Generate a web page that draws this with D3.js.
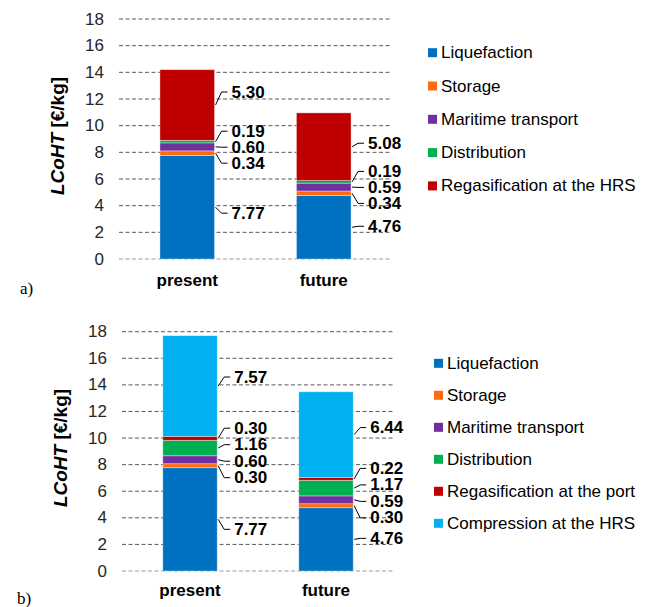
<!DOCTYPE html>
<html>
<head>
<meta charset="utf-8">
<script src="https://cdn.jsdelivr.net/npm/d3@7"></script>
<style>
  html, body { margin: 0; padding: 0; background: #fff; }
  svg { display: block; }
</style>
</head>
<body>
<svg id="chart" width="651" height="607"></svg>
<script>
// ---------- DATA ----------
const categories = ["present", "future"];
const yTicks = [0, 2, 4, 6, 8, 10, 12, 14, 16, 18];

const seriesA = ["Liquefaction", "Storage", "Maritime transport", "Distribution", "Regasification at the HRS"];
const presentA = [7.77, 0.34, 0.60, 0.19, 5.30];
const futureA  = [4.76, 0.34, 0.59, 0.19, 5.08];

const seriesB = ["Liquefaction", "Storage", "Maritime transport", "Distribution", "Regasification at the port", "Compression at the HRS"];
const presentB = [7.77, 0.30, 0.60, 1.16, 0.30, 7.57];
const futureB  = [4.76, 0.30, 0.59, 1.17, 0.22, 6.44];

const colorsA = ["#0070C0", "#FF6A13", "#7030A0", "#00B050", "#C00000"];
const colorsB = ["#0070C0", "#FF6A13", "#7030A0", "#00B050", "#C00000", "#00B0F0"];

// ---------- LAYOUT ----------
const panels = [
  {
    series: seriesA, values: [presentA, futureA], colors: colorsA, letter: "a)",
    x0: 119, x1: 392, yTop: 19, yBottom: 259, tickRight: 104,
    titleX: 57, titleY: 136, catBaseline: 286, letterX: 20, letterY: 294,
    gap: 16, nudges: [[6, 0, 0, 0, -13], [-1, 0, 0, 0, -3.5]],
    legendSqX: 428, legendTextX: 441, legendY0: 52.7, legendStep: 33.3
  },
  {
    series: seriesB, values: [presentB, futureB], colors: colorsB, letter: "b)",
    x0: 122, x1: 394, yTop: 331.7, yBottom: 571, tickRight: 107,
    titleX: 60, titleY: 448, catBaseline: 596, letterX: 17, letterY: 604,
    gap: 16.5, nudges: [[10, 0, 0, 0, 0, -9], [-1, 0, 0, 0, 0, -7]],
    legendSqX: 434, legendTextX: 447, legendY0: 363.3, legendStep: 32
  }
];

const svg = d3.select("#chart");
const FONT = "Liberation Sans, Arial, sans-serif";

function spreadLabels(mids, gap) {
  // cluster labels that are too close and spread them around their centroid
  let groups = mids.map((m, i) => ({ idx: [i], center: m }));
  let changed = true;
  while (changed) {
    changed = false;
    groups.sort((a, b) => a.center - b.center);
    for (let i = 0; i < groups.length - 1; i++) {
      const g1 = groups[i], g2 = groups[i + 1];
      const end1 = g1.center + (g1.idx.length - 1) * gap / 2;
      const start2 = g2.center - (g2.idx.length - 1) * gap / 2;
      if (start2 - end1 < gap - 0.01) {
        const idx = g1.idx.concat(g2.idx);
        const center = d3.mean(idx, k => mids[k]);
        groups.splice(i, 2, { idx, center });
        changed = true;
        break;
      }
    }
  }
  const pos = new Array(mids.length);
  groups.forEach(g => {
    const sorted = g.idx.slice().sort((a, b) => mids[a] - mids[b]);
    const n = sorted.length;
    sorted.forEach((k, j) => { pos[k] = g.center + (j - (n - 1) / 2) * gap; });
  });
  return pos;
}

panels.forEach(p => {
  const g = svg.append("g");
  const y = d3.scaleLinear().domain([0, 18]).range([p.yBottom, p.yTop]);
  const x = d3.scaleBand().domain(categories).range([p.x0, p.x1]).padding(0);
  const barW = x.bandwidth() * 0.4;

  // gridlines
  g.append("g").selectAll("line").data(yTicks).join("line")
    .attr("x1", p.x0).attr("x2", p.x1)
    .attr("y1", d => y(d)).attr("y2", d => y(d))
    .attr("stroke", d => d === 0 ? "#9a9a9a" : "#5a5a5a")
    .attr("stroke-width", 1)
    .attr("stroke-dasharray", "4,2.5");

  // tick labels
  g.append("g").selectAll("text").data(yTicks).join("text")
    .attr("x", p.tickRight).attr("y", d => y(d))
    .attr("text-anchor", "end").attr("dominant-baseline", "central")
    .attr("font-family", FONT).attr("font-size", 17).attr("fill", "#262626")
    .text(d => d);

  // y-axis title
  const t = g.append("text")
    .attr("transform", `translate(${p.titleX},${p.titleY}) rotate(-90)`)
    .attr("text-anchor", "middle").attr("dominant-baseline", "central")
    .attr("font-family", FONT).attr("font-size", 19).attr("font-weight", "bold").attr("fill", "#000");
  t.append("tspan").attr("font-style", "italic").text("LCoHT");
  t.append("tspan").text(" [€/kg]");

  // bars
  categories.forEach((cat, ci) => {
    const vals = p.values[ci];
    let cum = 0;
    const segs = vals.map((v, i) => { const s = { v, i, y0: cum, y1: cum + v }; cum += v; return s; });
    const bx = x(cat) + x.bandwidth() / 2 - barW / 2;
    const right = bx + barW;

    g.append("g").selectAll("rect").data(segs).join("rect")
      .attr("x", bx).attr("width", barW)
      .attr("y", d => y(d.y1)).attr("height", d => y(d.y0) - y(d.y1))
      .attr("fill", d => p.colors[d.i])
      .attr("stroke", "rgba(255,255,255,0.45)").attr("stroke-width", 0.8);

    const mids = segs.map(d => y((d.y0 + d.y1) / 2));
    const pos = spreadLabels(mids, p.gap).map((v, i) => v + p.nudges[ci][i]);

    const lab = g.append("g");
    segs.forEach((d, i) => {
      lab.append("path")
        .attr("d", d3.line()([[right + 1, mids[i]], [right + 7, pos[i]], [right + 13, pos[i]]]))
        .attr("fill", "none").attr("stroke", "#000").attr("stroke-width", 1);
      lab.append("text")
        .attr("x", right + 17).attr("y", pos[i])
        .attr("dominant-baseline", "central")
        .attr("font-family", FONT).attr("font-size", 17).attr("font-weight", "bold").attr("fill", "#000")
        .text(d.v.toFixed(2));
    });

    // category label
    g.append("text")
      .attr("x", x(cat) + x.bandwidth() / 2).attr("y", p.catBaseline)
      .attr("text-anchor", "middle")
      .attr("font-family", FONT).attr("font-size", 17).attr("font-weight", "bold").attr("fill", "#000")
      .text(cat);
  });

  // panel letter
  g.append("text")
    .attr("x", p.letterX).attr("y", p.letterY)
    .attr("font-family", "Liberation Serif, Times New Roman, serif").attr("font-size", 17).attr("fill", "#000")
    .text(p.letter);

  // legend
  const lg = g.append("g");
  p.series.forEach((s, i) => {
    const ly = p.legendY0 + i * p.legendStep;
    lg.append("rect").attr("x", p.legendSqX).attr("y", ly - 4.5).attr("width", 9).attr("height", 9)
      .attr("fill", p.colors[i]);
    lg.append("text").attr("x", p.legendTextX).attr("y", ly)
      .attr("dominant-baseline", "central")
      .attr("font-family", FONT).attr("font-size", 17).attr("fill", "#000")
      .text(s);
  });
});
</script>
</body>
</html>
